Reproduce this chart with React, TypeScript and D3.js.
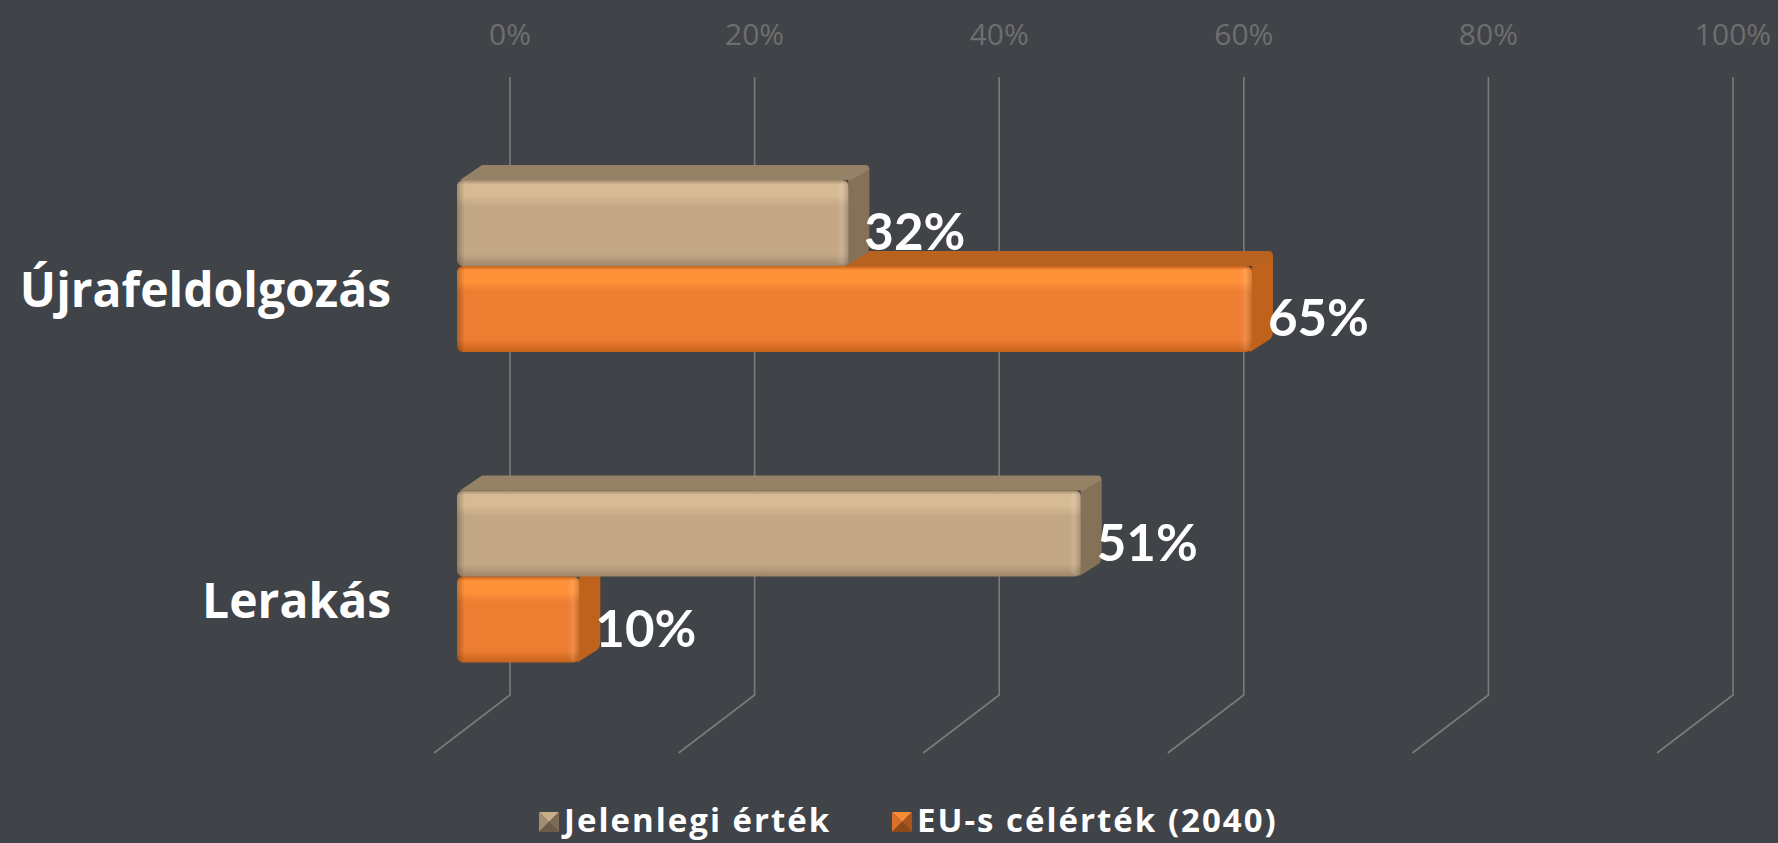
import React, { useEffect } from "react";
import * as d3 from "d3";

const categories = ["Újrafeldolgozás", "Lerakás"];
const seriesNames = ["Jelenlegi érték", "EU-s célérték (2040)"];
const currentValues = [32, 51];
const targetValues = [65, 10];
const tickValues = [0, 20, 40, 60, 80, 100];

const W = 1778;
const H = 843;
const BG = "#404347";

const palette = [
  { front: "#c4a886", hi: "#d7bb95", lo: "#9e876a", top: "#958166", side: "#857158", lt: "#c9ad89", md: "#a38d70", dk: "#7d6b55", dd: "#6b5c49" },
  { front: "#ed7d31", hi: "#ff9139", lo: "#c5631d", top: "#b8621f", side: "#bf621c", lt: "#f98a36", md: "#d8702a", dk: "#a9561b", dd: "#8f4918" },
];

export default function App() {
  useEffect(() => {
    document.body.style.margin = "0";
    document.body.style.overflow = "hidden";
  }, []);

  const x = d3.scaleLinear().domain([0, 100]).range([510, 1733]);
  const y = d3.scaleBand<string>().domain(categories).range([110.8, 731.8]).paddingInner(0.446).paddingOuter(0.223);
  const ys = d3.scaleBand<string>().domain(seriesNames).range([0, y.bandwidth()]).padding(0);

  const FRONT_DX = -53;
  const DEP = { dx: 21, dy: -15 };
  const FLOOR = { dx: -76, dy: 58 };
  const wallTop = 77;
  const wallBottom = 695;

  const bars: any[] = [];
  categories.forEach((c, ci) => {
    const vals = [currentValues[ci], targetValues[ci]];
    seriesNames.forEach((s, si) => {
      bars.push({ c, s, si, v: vals[si], y0: (y(c) as number) + (ys(s) as number), h: ys.bandwidth() });
    });
  });
  const drawOrder = [...bars].sort((a, b) => b.y0 - a.y0);

  const fontCat = "'Open Sans', Lato, sans-serif";
  const fontLbl = "Lato, 'Open Sans', sans-serif";

  return (
    <svg width={W} height={H} style={{ position: "absolute", left: 0, top: 0, display: "block" }}>
      <defs>
        {palette.map((p, i) => (
          <g key={i}>
            <linearGradient id={`fv${i}`} x1="0" y1="0" x2="0" y2="1">
              <stop offset="0" stopColor={p.lo} />
              <stop offset="0.05" stopColor={p.hi} />
              <stop offset="0.18" stopColor={p.hi} />
              <stop offset="0.3" stopColor={p.front} />
              <stop offset="0.86" stopColor={p.front} />
              <stop offset="1" stopColor={p.lo} />
            </linearGradient>
          </g>
        ))}
        <linearGradient id="redge" x1="0" y1="0" x2="1" y2="0">
          <stop offset="0" stopColor="#ffffff" stopOpacity="0" />
          <stop offset="0.45" stopColor="#ffffff" stopOpacity="0.12" />
          <stop offset="1" stopColor="#000000" stopOpacity="0.15" />
        </linearGradient>
        <linearGradient id="ledge" x1="0" y1="0" x2="1" y2="0">
          <stop offset="0" stopColor="#000000" stopOpacity="0.25" />
          <stop offset="1" stopColor="#000000" stopOpacity="0" />
        </linearGradient>
      </defs>
      <rect x={0} y={0} width={W} height={H} fill={BG} />

      {tickValues.map((t) => (
        <text key={`t${t}`} x={x(t)} y={45} textAnchor="middle" fontFamily="'Open Sans', Lato, sans-serif" fontWeight={400} fontSize={30} fill="#6e6e6e">
          {`${t}%`}
        </text>
      ))}

      {tickValues.map((t) => (
        <path
          key={`g${t}`}
          d={`M${x(t)},${wallTop}L${x(t)},${wallBottom}L${x(t) + FLOOR.dx},${wallBottom + FLOOR.dy}`}
          fill="none"
          stroke="#7b7b7b"
          strokeWidth={1.6}
        />
      ))}

      {drawOrder.map((b, i) => {
        const p = palette[b.si];
        const x0 = x(0) + FRONT_DX;
        const x1 = x(b.v) + FRONT_DX;
        const y0 = b.y0;
        const y1 = b.y0 + b.h;
        const topD = `M${x0 + 3},${y0}L${x0 + DEP.dx + 4},${y0 + DEP.dy}L${x1 + DEP.dx - 4},${y0 + DEP.dy}Q${x1 + DEP.dx},${y0 + DEP.dy} ${x1 + DEP.dx},${y0 + DEP.dy + 5}L${x1},${y0 + 4}L${x1},${y0}Z`;
        const sideD = `M${x1},${y0 + 2}L${x1 + DEP.dx},${y0 + DEP.dy + 4}L${x1 + DEP.dx},${y1 + DEP.dy - 5}Q${x1 + DEP.dx},${y1 + DEP.dy} ${x1 + DEP.dx - 4},${y1 + DEP.dy + 3}L${x1 - 2},${y1}Z`;
        const w = x1 - x0;
        return (
          <g key={`b${i}`}>
            <path d={topD} fill={p.top} />
            <path d={sideD} fill={p.side} />
            <rect x={x0} y={y0} width={w} height={b.h} rx={6} ry={6} fill={`url(#fv${b.si})`} />
            <rect x={x0} y={y0} width={Math.min(8, w)} height={b.h} rx={6} ry={6} fill="url(#ledge)" />
            <rect x={x1 - 12} y={y0 + 2} width={12} height={b.h - 4} rx={5} ry={5} fill="url(#redge)" />
          </g>
        );
      })}

      {bars.map((b, i) => (
        <text
          key={`l${i}`}
          x={x(b.v) + FRONT_DX + 16}
          y={b.y0 + b.h / 2 + 27}
          fontFamily={fontLbl}
          fontWeight={700}
          fontSize={51}
          fill="#ffffff"
        >
          {`${b.v}%`}
        </text>
      ))}

      {categories.map((c, ci) => (
        <text
          key={`c${ci}`}
          x={391}
          y={(y(c) as number) + y.bandwidth() / 2 + 41}
          textAnchor="end"
          fontFamily={fontCat}
          fontWeight={700}
          fontSize={48}
          fill="#ffffff"
        >
          {c}
        </text>
      ))}

      {seriesNames.map((s, si) => {
        const p = palette[si];
        const lx = si === 0 ? 539 : 892;
        const ly = 812;
        const sz = 20;
        const cx = lx + sz / 2;
        const cy = ly + sz / 2;
        return (
          <g key={`lg${si}`}>
            <path d={`M${lx},${ly}L${lx + sz},${ly}L${cx},${cy}Z`} fill={p.lt} />
            <path d={`M${lx},${ly}L${cx},${cy}L${lx},${ly + sz}Z`} fill={p.md} />
            <path d={`M${lx + sz},${ly}L${lx + sz},${ly + sz}L${cx},${cy}Z`} fill={p.dk} />
            <path d={`M${lx},${ly + sz}L${cx},${cy}L${lx + sz},${ly + sz}Z`} fill={p.dd} />
            <text x={lx + sz + 5} y={832} fontFamily={fontCat} fontWeight={700} fontSize={33} letterSpacing={2} fill="#ffffff">
              {s}
            </text>
          </g>
        );
      })}
    </svg>
  );
}
